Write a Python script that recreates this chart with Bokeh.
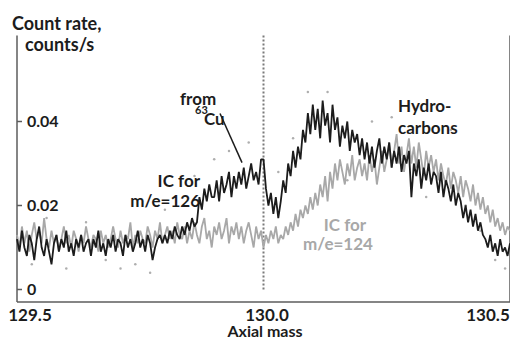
from bokeh.plotting import figure
from bokeh.models import Label, Range1d
from bokeh.embed import file_html
from bokeh.resources import INLINE

# ---------------- data ----------------
mass_start = 129.5
mass_step = 0.005
# count rates in units of 1e-3 counts/s, one value per mass step
rate_126_milli = [
    12, 9, 14, 10, 8, 13, 11, 7, 12, 15,
    10, 8, 12, 9, 6, 11, 13, 9, 12, 10,
    14, 9, 11, 8, 12, 10, 13, 9, 11, 12,
    8, 12, 10, 14, 9, 11, 8, 12, 10, 13,
    9, 12, 11, 8, 13, 10, 12, 9, 11, 14,
    10, 12, 9, 13, 11, 7, 10, 12, 13, 11,
    13, 11, 14, 12, 15, 13, 12, 15, 13, 16,
    14, 17, 15, 16, 22, 19, 24, 21, 25, 22,
    22, 26, 21, 27, 23, 25, 28, 22, 27, 24,
    28, 25, 29, 24, 27, 30, 26, 28, 25, 31,
    31, 24, 20, 23, 18, 22, 17, 21, 26, 23,
    30, 27, 33, 29, 34, 31, 38, 35, 42, 37,
    44, 38, 43, 36, 45, 39, 42, 35, 44, 38,
    41, 34, 39, 36, 40, 33, 38, 35, 37, 32,
    36, 31, 35, 30, 34, 29, 33, 36, 30, 34,
    31, 35, 29, 33, 30, 34, 28, 32, 30, 33,
    22, 30, 27, 31, 24, 29, 26, 30, 25, 28,
    27, 23, 28, 22, 26, 24, 21, 25, 20, 23,
    21, 17, 20, 16, 19, 15, 18, 14, 16, 13,
    12, 10, 13, 9, 11, 8, 12, 9, 10, 8, 11,
]
rate_124_milli = [
    13, 10, 15, 11, 14, 9, 13, 16, 12, 14,
    11, 17, 12, 10, 14, 11, 13, 9, 12, 15,
    11, 13, 10, 14, 12, 9, 13, 11, 15, 12,
    10, 13, 12, 9, 14, 11, 13, 10, 12, 15,
    12, 10, 14, 11, 13, 12, 16, 10, 13, 11,
    14, 12, 11, 15, 13, 10, 14, 12, 16, 11,
    13, 15, 12, 14, 11, 16, 13, 12, 15, 11,
    14, 12, 16, 13, 11, 15, 17, 12, 14, 10,
    15, 13, 16, 12, 14, 17, 11, 15, 13, 16,
    12, 15, 11, 14, 16, 13, 10, 15, 12, 14,
    10, 13, 11, 14, 12, 15, 11, 13, 12, 15,
    13, 16, 14, 18, 15, 19, 17, 20, 18, 22,
    19, 23, 20, 25, 22, 27, 21, 28, 24, 30,
    26, 31, 28, 25, 30, 27, 32, 26, 29, 31,
    27, 30, 26, 32, 28, 31, 25, 29, 33, 28,
    31, 35, 29, 33, 37, 30, 34, 28, 32, 36,
    30, 34, 29, 35, 31, 27, 33, 29, 32, 28,
    31, 26, 30, 27, 25, 29, 24, 28, 26, 23,
    27, 22, 26, 24, 21, 25, 20, 23, 19, 22,
    18, 20, 16, 19, 15, 17, 14, 16, 13, 15, 14,
]
# scattered single readings (faint dots)
dot_mass = [129.53, 129.56, 129.60, 129.64, 129.68, 129.71, 129.74, 129.77, 129.80,
            129.86, 129.90, 129.93, 129.97, 130.03, 130.06, 130.09, 130.13, 130.17,
            130.22, 130.26, 130.33, 130.38, 130.41, 130.44, 130.47, 130.49]
dot_rate = [0.006, 0.017, 0.005, 0.016, 0.007, 0.005, 0.006, 0.004, 0.019,
            0.027, 0.031, 0.033, 0.035, 0.028, 0.036, 0.047, 0.047, 0.026,
            0.040, 0.041, 0.022, 0.038, 0.020, 0.014, 0.007, 0.005]
y_ticks = [0, 0.02, 0.04]
y_tick_labels = ["0", "0.02", "0.04"]
x_ticks = [129.5, 130.0, 130.5]
x_tick_labels = ["129.5", "130.0", "130.5"]
cu_line_mass = 130.0
axis_min_y = -0.003
axis_top_y = 0.0605

mass = [round(mass_start + i * mass_step, 4) for i in range(len(rate_126_milli))]
rate_126 = [v / 1000 for v in rate_126_milli]
rate_124 = [v / 1000 for v in rate_124_milli]

FONT = "Lato"
DARK = "#1c1c1c"
LIGHT = "#a8a8a8"
AXIS = "#5c5c5c"

W, H = 510, 339
PX_PER_X = 493.0
PX_PER_Y = 4200.0
x_start = 129.5 - 16.5 / PX_PER_X
x_end = x_start + W / PX_PER_X
y_end = 289 / PX_PER_Y
y_start = y_end - H / PX_PER_Y

p = figure(width=W, height=H, output_backend="svg", toolbar_location=None,
           x_range=Range1d(x_start, x_end), y_range=Range1d(y_start, y_end),
           x_axis_type=None, y_axis_type=None,
           min_border=0, min_border_left=0, min_border_right=0,
           min_border_top=0, min_border_bottom=0)
p.grid.visible = False
p.outline_line_color = None
p.background_fill_color = "white"
p.border_fill_color = "white"

# axis lines (left, right, bottom)
p.line([x_ticks[0], x_ticks[0]], [axis_min_y, axis_top_y], line_color=AXIS, line_width=1.5)
p.line([x_ticks[-1], x_ticks[-1]], [axis_min_y, axis_top_y], line_color=AXIS, line_width=1.5)
p.line([x_ticks[0], x_ticks[-1]], [axis_min_y, axis_min_y], line_color=AXIS, line_width=1.5)

# y tick marks (inside)
tick_len = 5 / PX_PER_X
p.segment([x_ticks[0]] * len(y_ticks), y_ticks, [x_ticks[0] + tick_len] * len(y_ticks), y_ticks,
          line_color=AXIS, line_width=1.5)

# dotted line at 130.0
p.line([cu_line_mass, cu_line_mass], [0, axis_top_y], line_color="#7a7a7a",
       line_width=2, line_dash="2 2")

# faint dots
p.scatter(dot_mass, dot_rate, size=2.5, fill_color="#9a9a9a", line_color=None, alpha=0.8)

# traces
p.line(mass, rate_124, line_color=LIGHT, line_width=1.8)
p.line(mass, rate_126, line_color=DARK, line_width=1.8)

# pointer from "63Cu"
p.line([129.9118, 129.9564], [0.0419, 0.0302], line_color=DARK, line_width=1.5)

def lab(text, x, y, size=17, color=DARK, align="left", baseline="alphabetic"):
    p.add_layout(Label(x=x, y=y, text=text, text_font=FONT, text_font_style="bold",
                       text_font_size=f"{size}px", text_color=color, text_align=align,
                       text_baseline=baseline))

# y tick labels (inside plot)
y_lab_x = x_ticks[0] + 10 / PX_PER_X
for t, s in zip(y_ticks, y_tick_labels):
    lab(s, y_lab_x, t, size=16, baseline="middle")
# x tick labels
x_offs_px = [13, 3.5, -22]
for t, s, o in zip(x_ticks, x_tick_labels, x_offs_px):
    lab(s, t + o / PX_PER_X, -0.00619, size=17, align="center")

lab("Axial mass", 130.003, -0.00976, size=16, align="center")
lab("Count rate,", 129.4899, 0.06357, size=18)
lab("counts/s", 129.5162, 0.05857, size=18)

lab("from", 129.8306, 0.04548, size=17)
lab("63", 129.8611, 0.04262, size=11)
lab("Cu", 129.8793, 0.04071, size=17)

lab("IC for", 129.8712, 0.02595, size=17, align="right")
lab("m/e=126", 129.8712, 0.02119, size=17, align="right")

lab("IC for", 130.1653, 0.01548, size=17, color=LIGHT, align="center")
lab("m/e=124", 130.1511, 0.01095, size=17, color=LIGHT, align="center")

lab("Hydro-", 130.2728, 0.04381, size=17)
lab("carbons", 130.2728, 0.03857, size=17)

open("out.html", "w").write(file_html(p, INLINE))
